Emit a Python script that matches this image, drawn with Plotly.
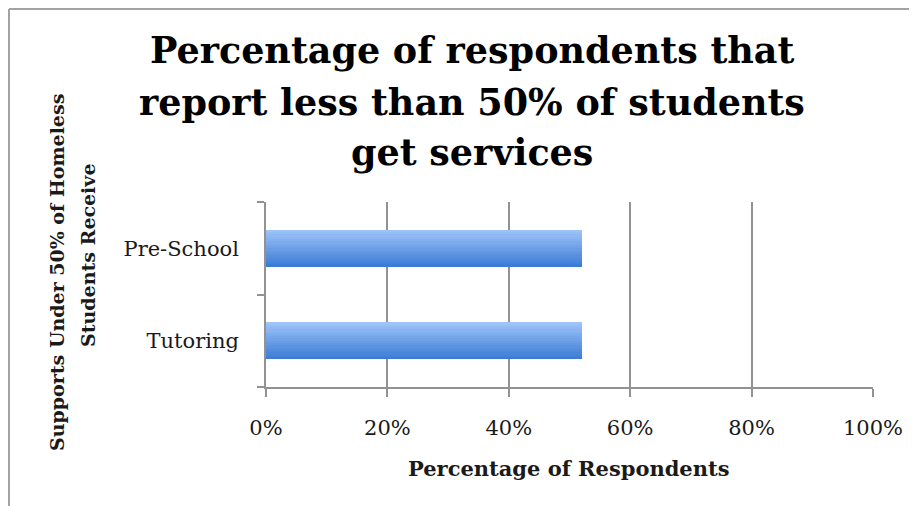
import plotly.graph_objects as go

# ---- data ----
categories = ["Tutoring", "Pre-School"]
values = [52, 52]
x_tick_values = [0, 20, 40, 60, 80, 100]
x_tick_labels = ["0%", "20%", "40%", "60%", "80%", "100%"]
title_lines = ["Percentage of respondents that",
               "report less than 50% of students",
               "get services"]
x_title = "Percentage of Respondents"
y_title_lines = ["Supports Under 50% of Homeless", "Students Receive"]

# ---- figure geometry (pixels); page body adds an 8px offset ----
W, H = 917, 506
OFF = 8
PX0, PX1 = 266 - OFF, 873 - OFF     # plot left/right in figure px
PY0, PY1 = 202 - OFF, 387 - OFF     # plot top/bottom in figure px
L, R, T, B = PX0, W - PX1, PY0, H - PY1
PW, PH = PX1 - PX0, PY1 - PY0


def px(xs):
    """screen x -> paper x"""
    return (xs - OFF - PX0) / PW


def py(ys):
    """screen y -> paper y"""
    return (PY1 - (ys - OFF)) / PH


fig = go.Figure()

# gradient bar made of thin overlaid strips
N = 16
bw = 0.4
step = bw / N
bottom_rgb = (58, 122, 212)
top_rgb = (160, 197, 250)
for i in range(N):
    t = (i + 0.5) / N
    c = tuple(round(b + (tp - b) * t) for b, tp in zip(bottom_rgb, top_rgb))
    fig.add_trace(go.Bar(
        y=categories, x=values, orientation="h",
        width=step * (1.08 if i < N - 1 else 1.0),
        offset=-bw / 2 + i * step,
        marker=dict(color="rgb(%d,%d,%d)" % c, line=dict(width=0)),
        showlegend=False, hoverinfo="skip",
    ))

grid = "#929292"
serif = "DejaVu Serif"

fig.update_layout(
    width=W, height=H,
    margin=dict(l=L, r=R, t=T, b=B, pad=0),
    paper_bgcolor="white", plot_bgcolor="white",
    barmode="overlay", bargap=0,
    xaxis=dict(
        range=[0, 100], tickvals=x_tick_values, ticktext=x_tick_labels,
        showgrid=True, gridcolor=grid, gridwidth=1.8,
        showline=True, linecolor=grid, linewidth=1.8,
        ticks="outside", ticklen=8, tickcolor=grid, tickwidth=1.8,
        tickfont=dict(family=serif, size=21, color="#1a1a1a"),
        ticklabelstandoff=13, zeroline=False, fixedrange=True,
    ),
    yaxis=dict(
        type="category", categoryorder="array", categoryarray=categories,
        range=[-0.5, 1.5], showgrid=False,
        showline=True, linecolor=grid, linewidth=1.8,
        ticks="outside", tickson="boundaries", ticklen=7,
        tickcolor=grid, tickwidth=1.8,
        tickfont=dict(family=serif, size=21, color="#1a1a1a"),
        ticklabelstandoff=21, zeroline=False, fixedrange=True,
    ),
)

annotations = []
title_centers = [51, 102, 152]
for line, yc in zip(title_lines, title_centers):
    annotations.append(dict(
        text="<b>%s</b>" % line, xref="paper", yref="paper",
        x=px(472), y=py(yc), xanchor="center", yanchor="middle",
        showarrow=False, font=dict(family=serif, size=36.5, color="black"),
    ))
annotations.append(dict(
    text="<b>%s</b>" % x_title, xref="paper", yref="paper",
    x=px(569), y=py(468), xanchor="center", yanchor="middle",
    showarrow=False, font=dict(family=serif, size=21, color="#1a1a1a"),
))
for line, (xc, yc) in zip(y_title_lines, [(57, 273), (88, 256)]):
    annotations.append(dict(
        text="<b>%s</b>" % line, xref="paper", yref="paper",
        x=px(xc), y=py(yc), xanchor="center", yanchor="middle",
        textangle=-90, showarrow=False,
        font=dict(family=serif, size=19, color="#1a1a1a"),
    ))
fig.update_layout(annotations=annotations)

# chart frame (top and left edges visible in the crop)
fig.update_layout(shapes=[
    dict(type="line", xref="paper", yref="paper",
         x0=px(9), x1=px(W + 10), y0=py(9), y1=py(9),
         line=dict(color="#a3a3a3", width=2)),
    dict(type="line", xref="paper", yref="paper",
         x0=px(9), x1=px(9), y0=py(9), y1=py(H + 10),
         line=dict(color="#a3a3a3", width=2)),
])

fig.write_html("out.html")
